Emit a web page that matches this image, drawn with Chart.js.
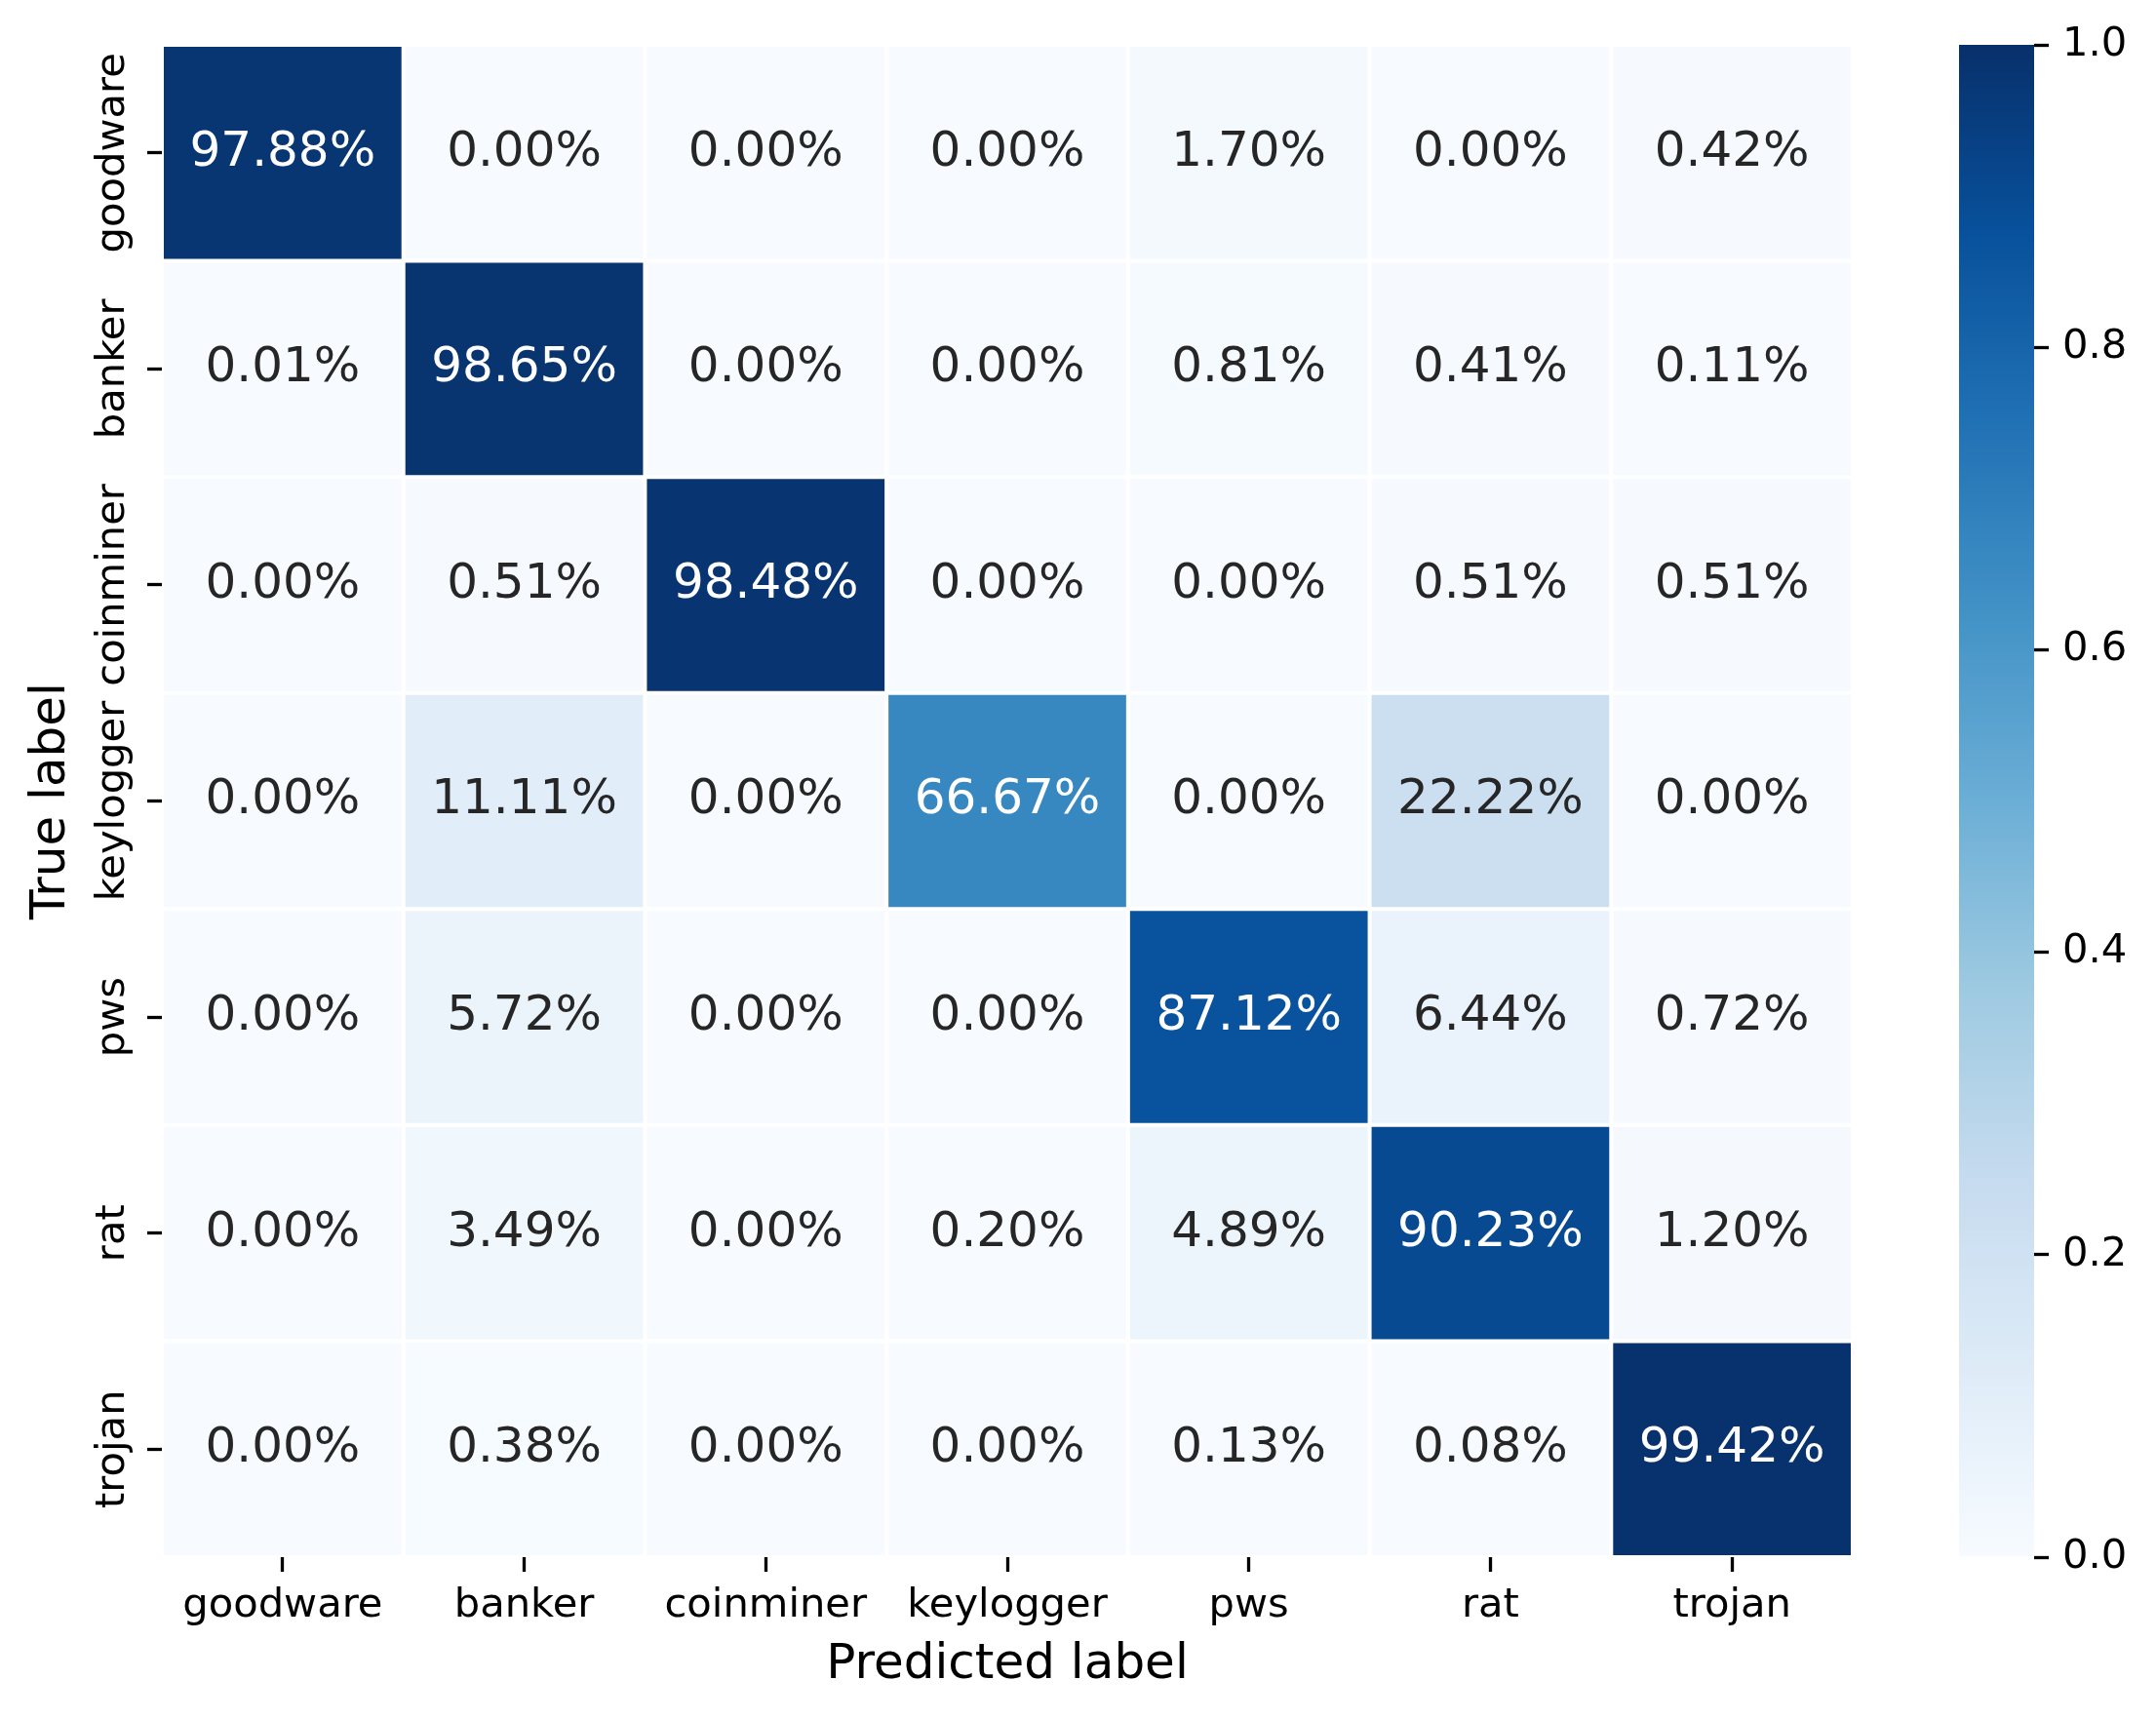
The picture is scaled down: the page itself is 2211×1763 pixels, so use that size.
<!DOCTYPE html>
<html>
<head>
<meta charset="utf-8">
<script src="https://cdn.jsdelivr.net/npm/chart.js@4.4.1/dist/chart.umd.min.js"></script>
<style>
  html, body { margin: 0; padding: 0; background: #ffffff; }
  body { width: 2211px; height: 1763px; position: relative; overflow: hidden; }
  canvas { position: absolute; top: 0; }
  #heat { left: 0; }
  #cbar { left: 1950px; }
</style>
</head>
<body>
<canvas id="heat" width="1950" height="1763" style="width:1950px;height:1763px"></canvas>
<canvas id="cbar" width="261" height="1763" style="width:261px;height:1763px"></canvas>
<script>
// ---- data (percent of true class) ----
const categories = ['goodware', 'banker', 'coinminer', 'keylogger', 'pws', 'rat', 'trojan'];
const goodwareRow  = [97.88, 0.00, 0.00, 0.00, 1.70, 0.00, 0.42];
const bankerRow    = [0.01, 98.65, 0.00, 0.00, 0.81, 0.41, 0.11];
const coinminerRow = [0.00, 0.51, 98.48, 0.00, 0.00, 0.51, 0.51];
const keyloggerRow = [0.00, 11.11, 0.00, 66.67, 0.00, 22.22, 0.00];
const pwsRow       = [0.00, 5.72, 0.00, 0.00, 87.12, 6.44, 0.72];
const ratRow       = [0.00, 3.49, 0.00, 0.20, 4.89, 90.23, 1.20];
const trojanRow    = [0.00, 0.38, 0.00, 0.00, 0.13, 0.08, 99.42];
const rows = [goodwareRow, bankerRow, coinminerRow, keyloggerRow, pwsRow, ratRow, trojanRow];
const colorbarTicks = [0.0, 0.2, 0.4, 0.6, 0.8, 1.0];
const xTitle = 'Predicted label';
const yTitle = 'True label';

// ---- Blues colormap (matplotlib / ColorBrewer) ----
const BLUES = [
  [0.96862745, 0.98431373, 1.00000000],
  [0.87058824, 0.92156863, 0.96862745],
  [0.77647059, 0.85882353, 0.93725490],
  [0.61960784, 0.79215686, 0.88235294],
  [0.41960784, 0.68235294, 0.83921569],
  [0.25882353, 0.57254902, 0.77647059],
  [0.12941176, 0.44313725, 0.70980392],
  [0.03137255, 0.31764706, 0.61176471],
  [0.03137255, 0.18823529, 0.41960784]
];
function bluesRGB(t) {
  t = Math.max(0, Math.min(1, t));
  const p = t * (BLUES.length - 1);
  const i = Math.min(Math.floor(p), BLUES.length - 2);
  const f = p - i;
  return BLUES[i].map((a, k) => a + (BLUES[i + 1][k] - a) * f);
}
function rgbStr(c) {
  return 'rgb(' + c.map(v => Math.round(v * 255)).join(',') + ')';
}
function luminance(c) {
  const l = c.map(v => v <= 0.03928 ? v / 12.92 : Math.pow((v + 0.055) / 1.055, 2.4));
  return 0.2126 * l[0] + 0.7152 * l[1] + 0.0722 * l[2];
}

const FONT = '"DejaVu Sans", "Liberation Sans", sans-serif';
const TICK_PX = 41.67;
const LABEL_PX = 50;

// ---- heatmap ----
const datasets = rows.map((row, r) => ({
  label: categories[r],
  data: row.map(() => [r, r + 1]),
  backgroundColor: row.map(v => rgbStr(bluesRGB(v / 100))),
  borderColor: '#ffffff',
  borderWidth: 2,
  borderSkipped: false,
  inflateAmount: 0,
  grouped: false,
  barPercentage: 1,
  categoryPercentage: 1
}));

const annotatePlugin = {
  id: 'annotate',
  afterDatasetsDraw(chart) {
    const {ctx, scales: {x, y}} = chart;
    ctx.save();
    ctx.font = LABEL_PX + 'px ' + FONT;
    ctx.textAlign = 'center';
    ctx.textBaseline = 'middle';
    rows.forEach((row, r) => {
      row.forEach((v, c) => {
        const col = bluesRGB(v / 100);
        ctx.fillStyle = luminance(col) > 0.408 ? '#262626' : '#ffffff';
        ctx.fillText(v.toFixed(2) + '%', x.getPixelForValue(c), y.getPixelForValue(r + 0.5));
      });
    });
    ctx.restore();
  },
  afterDraw(chart) {
    const {ctx, scales: {y}} = chart;
    ctx.save();
    ctx.font = TICK_PX + 'px ' + FONT;
    ctx.fillStyle = '#000000';
    ctx.textAlign = 'center';
    ctx.textBaseline = 'alphabetic';
    categories.forEach((cat, i) => {
      ctx.save();
      ctx.translate(127, y.getPixelForValue(i + 0.5));
      ctx.rotate(-Math.PI / 2);
      ctx.fillText(cat, 0, 0);
      ctx.restore();
    });
    ctx.restore();
  }
};

new Chart(document.getElementById('heat'), {
  type: 'bar',
  data: { labels: categories, datasets },
  plugins: [annotatePlugin],
  options: {
    responsive: false,
    animation: false,
    events: [],
    layout: { padding: { top: 46, right: 50, left: 0, bottom: 0 } },
    plugins: { legend: { display: false }, tooltip: { enabled: false } },
    scales: {
      x: {
        type: 'category',
        offset: true,
        grid: { display: true, offset: false, drawOnChartArea: false, drawTicks: true, tickLength: 15, tickWidth: 3.3, tickColor: '#000000' },
        border: { display: false },
        ticks: { color: '#000000', font: { family: FONT, size: TICK_PX }, padding: 10, maxRotation: 0, minRotation: 0, autoSkip: false },
        title: { display: true, text: xTitle, color: '#000000', font: { family: FONT, size: LABEL_PX }, padding: { top: 0, bottom: 25 } },
        afterFit(scale) { scale.height = 1763 - 1597; }
      },
      y: {
        type: 'linear',
        min: 0,
        max: categories.length,
        reverse: true,
        afterBuildTicks(scale) { scale.ticks = categories.map((c, i) => ({ value: i + 0.5 })); },
        grid: { display: true, drawOnChartArea: false, drawTicks: true, tickLength: 15, tickWidth: 3.3, tickColor: '#000000' },
        border: { display: false },
        ticks: { display: false },
        title: { display: true, text: yTitle, color: '#000000', font: { family: FONT, size: LABEL_PX }, padding: { top: 23, bottom: 0 } },
        afterFit(scale) { scale.width = 166; }
      }
    }
  }
});

// ---- colorbar ----
new Chart(document.getElementById('cbar'), {
  type: 'bar',
  data: {
    labels: [''],
    datasets: [{
      data: [[colorbarTicks[0], colorbarTicks[colorbarTicks.length - 1]]],
      backgroundColor(context) {
        const chart = context.chart;
        const ys = chart.scales.y;
        if (!chart.chartArea || !ys) return rgbStr(bluesRGB(0.5));
        const g = chart.ctx.createLinearGradient(0, ys.getPixelForValue(0), 0, ys.getPixelForValue(1));
        BLUES.forEach((c, i) => g.addColorStop(i / (BLUES.length - 1), rgbStr(c)));
        return g;
      },
      borderWidth: 0,
      inflateAmount: 0,
      barPercentage: 1,
      categoryPercentage: 1
    }]
  },
  options: {
    responsive: false,
    animation: false,
    events: [],
    layout: { padding: { top: 46, right: 0, left: 59, bottom: 1763 - 1597 } },
    plugins: { legend: { display: false }, tooltip: { enabled: false } },
    scales: {
      x: { display: false, offset: true },
      y: {
        position: 'right',
        min: 0,
        max: 1,
        afterBuildTicks(scale) { scale.ticks = colorbarTicks.map(v => ({ value: v })); },
        grid: { display: true, drawOnChartArea: false, drawTicks: true, tickLength: 15, tickWidth: 3.3, tickColor: '#000000' },
        border: { display: false },
        ticks: { color: '#000000', font: { family: FONT, size: TICK_PX }, padding: 14, callback: v => Number(v).toFixed(1) },
        afterFit(scale) { scale.width = 261 - 136; }
      }
    }
  }
});
</script>
</body>
</html>
